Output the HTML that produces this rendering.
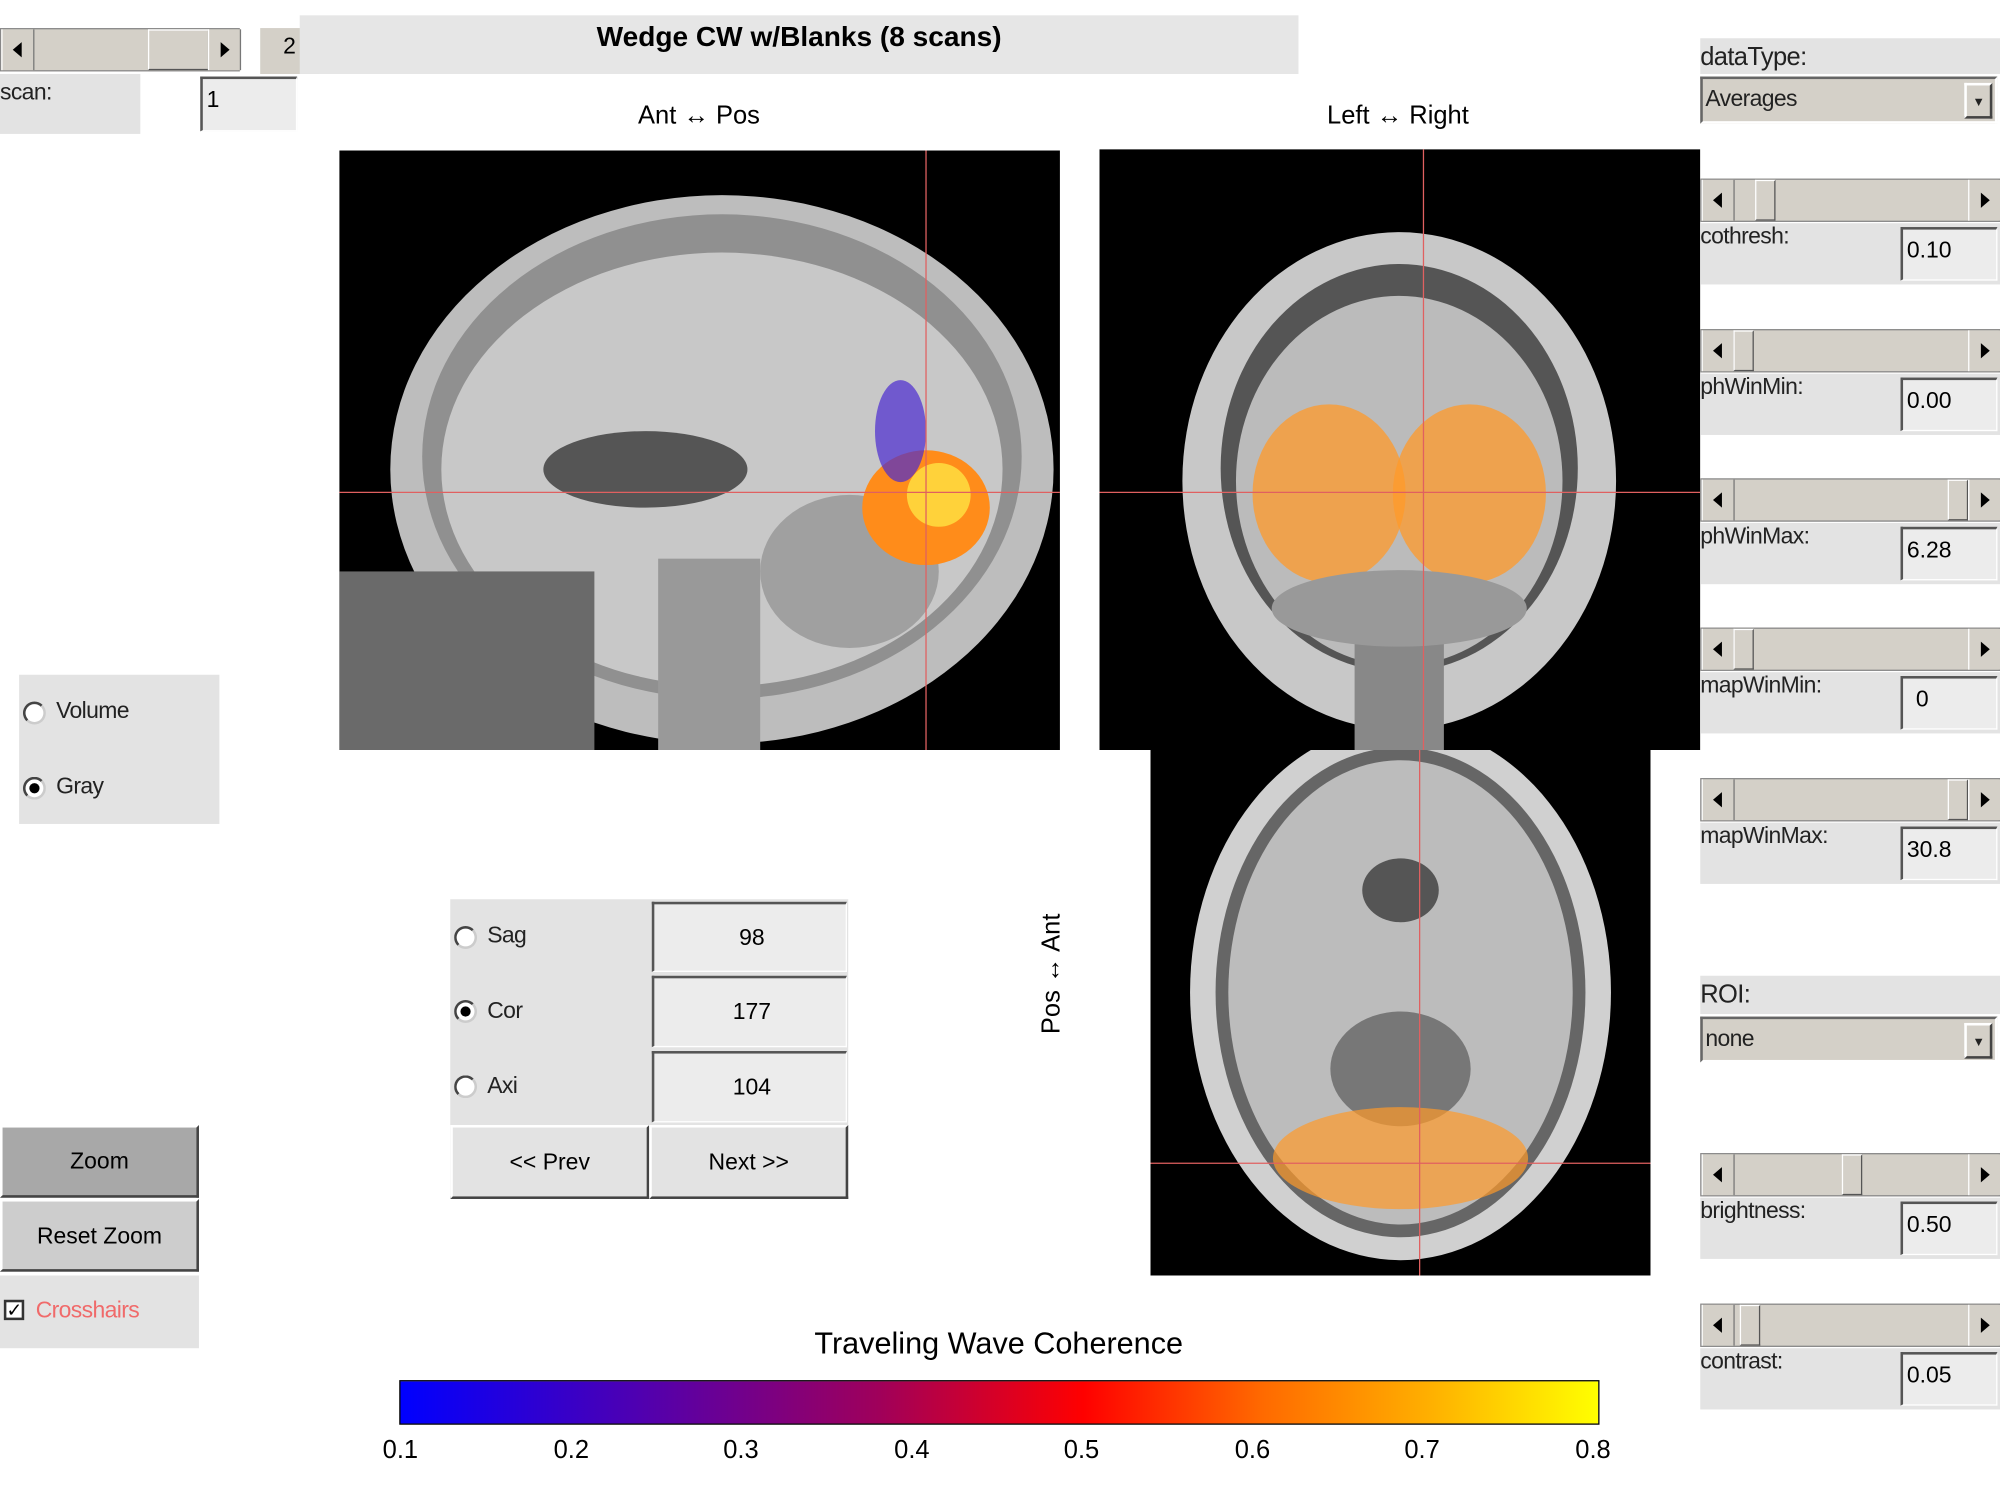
<!DOCTYPE html>
<html><head><style>
html,body{margin:0;padding:0;background:#fff;overflow:hidden}
#w{position:absolute;left:0;top:0;width:1568px;height:1176px;transform:scale(1.27551);transform-origin:0 0;font-family:"Liberation Sans",sans-serif;}
.a{position:absolute;box-sizing:border-box}
.g{background:#e3e3e3}
.tan{background:#d4d0c8}
.ed{background:#ececec;border-top:2px solid #555;border-left:2px solid #555;border-right:1px solid #fff;border-bottom:1px solid #fff;font-size:18px;padding:6px 0 0 3px}
.lbl{font-size:18px;color:#222;letter-spacing:-0.5px}
.sl{position:absolute;height:34px;background:#d4d0c8;border:1px solid #888;box-sizing:border-box}
.sl .ar{position:absolute;top:0;width:24px;height:32px;background:#d4d0c8;border-right:1px solid #777;border-left:1px solid #fff}
.sl .th{position:absolute;top:0;height:32px;background:#d4d0c8;border:1px solid #fff;border-right-color:#555;border-bottom-color:#555;box-sizing:border-box}
.tri{position:absolute;top:10px;left:8px;width:0;height:0;border-top:6px solid transparent;border-bottom:6px solid transparent}
.btn{border:2px solid #fff;border-right-color:#444;border-bottom-color:#444;font-size:18px;text-align:center}
.rad{position:absolute;width:14px;height:14px;border-radius:50%;border:2px solid #444;border-right-color:#ccc;border-bottom-color:#ccc;background:#fff}
.dot{position:absolute;left:3px;top:3px;width:8px;height:8px;border-radius:50%;background:#000}
</style></head><body><div id="w">

<!-- top left slider -->
<div class="sl" style="left:0;top:22px;width:188px"><div class="ar" style="left:0"><div class="tri" style="border-right:7px solid #000"></div></div><div class="th" style="left:115px;width:48px"></div><div class="ar" style="left:162px"><div class="tri" style="border-left:7px solid #000;left:9px"></div></div></div>
<div class="a tan" style="left:204px;top:22px;width:46px;height:36px;font-size:18px;text-align:center;padding-top:4px">2</div>
<div class="a g" style="left:235px;top:12px;width:783px;height:46px;font-size:22px;font-weight:bold;text-align:center;padding-top:4px;background:#e6e6e6">Wedge CW w/Blanks (8 scans)</div>
<div class="a g lbl" style="left:0;top:58px;width:110px;height:47px;padding-top:4px">scan:</div>
<div class="a ed" style="left:157px;top:60px;width:76px;height:43px">1</div>

<div class="a" style="left:440px;top:80px;width:216px;text-align:center;font-size:20px">Ant ↔ Pos</div>
<div class="a" style="left:990px;top:80px;width:212px;text-align:center;font-size:20px">Left ↔ Right</div>

<!-- sagittal -->
<svg class="a" style="left:266px;top:118px" width="565" height="470">
<rect width="565" height="470" fill="#000"/>
<ellipse cx="300" cy="250" rx="260" ry="215" fill="#bdbdbd"/>
<ellipse cx="300" cy="240" rx="235" ry="190" fill="#909090"/>
<ellipse cx="300" cy="250" rx="220" ry="170" fill="#c8c8c8"/>
<ellipse cx="240" cy="250" rx="80" ry="30" fill="#555"/>
<ellipse cx="400" cy="330" rx="70" ry="60" fill="#a0a0a0"/>
<rect x="0" y="330" width="200" height="140" fill="#6a6a6a"/>
<rect x="250" y="320" width="80" height="150" fill="#999"/>
<ellipse cx="460" cy="280" rx="50" ry="45" fill="#ff8c1a"/>
<ellipse cx="470" cy="270" rx="25" ry="25" fill="#ffd23a"/>
<ellipse cx="440" cy="220" rx="20" ry="40" fill="#4a2ad0" opacity=".7"/>
<line x1="460" y1="0" x2="460" y2="470" stroke="#e06060" stroke-width="1"/>
<line x1="0" y1="268" x2="565" y2="268" stroke="#e06060" stroke-width="1"/>
</svg>

<!-- coronal -->
<svg class="a" style="left:862px;top:117px" width="471" height="471">
<rect width="471" height="471" fill="#000"/>
<ellipse cx="235" cy="260" rx="170" ry="195" fill="#c8c8c8"/>
<ellipse cx="235" cy="250" rx="140" ry="160" fill="#555"/>
<ellipse cx="235" cy="260" rx="128" ry="145" fill="#bbb"/>
<rect x="200" y="380" width="70" height="91" fill="#888"/>
<ellipse cx="180" cy="270" rx="60" ry="70" fill="#ff9a2a" opacity=".75"/>
<ellipse cx="290" cy="270" rx="60" ry="70" fill="#ff9a2a" opacity=".75"/>
<ellipse cx="235" cy="360" rx="100" ry="30" fill="#999"/>
<line x1="254" y1="0" x2="254" y2="471" stroke="#e06060"/>
<line x1="0" y1="269" x2="471" y2="269" stroke="#e06060"/>
</svg>

<!-- axial -->
<svg class="a" style="left:902px;top:588px" width="392" height="412">
<rect width="392" height="412" fill="#000"/>
<ellipse cx="196" cy="190" rx="165" ry="210" fill="#d0d0d0"/>
<ellipse cx="196" cy="190" rx="145" ry="192" fill="#666"/>
<ellipse cx="196" cy="190" rx="135" ry="182" fill="#bcbcbc"/>
<ellipse cx="196" cy="110" rx="30" ry="25" fill="#555"/>
<ellipse cx="196" cy="250" rx="55" ry="45" fill="#777"/>
<ellipse cx="196" cy="320" rx="100" ry="40" fill="#ff9a2a" opacity=".7"/>
<line x1="211" y1="0" x2="211" y2="412" stroke="#e06060"/>
<line x1="0" y1="324" x2="392" y2="324" stroke="#e06060"/>
</svg>

<!-- Volume/Gray -->
<div class="a g" style="left:15px;top:529px;width:157px;height:117px"></div>
<div class="rad" style="left:18px;top:550px"></div><div class="a lbl" style="left:44px;top:547px">Volume</div>
<div class="rad" style="left:18px;top:609px"><div class="dot"></div></div><div class="a lbl" style="left:44px;top:606px">Gray</div>

<!-- Sag/Cor/Axi -->
<div class="a g" style="left:353px;top:705px;width:312px;height:235px"></div>
<div class="rad" style="left:356px;top:726px"></div><div class="a lbl" style="left:382px;top:723px">Sag</div>
<div class="rad" style="left:356px;top:784px"><div class="dot"></div></div><div class="a lbl" style="left:382px;top:782px">Cor</div>
<div class="rad" style="left:356px;top:843px"></div><div class="a lbl" style="left:382px;top:841px">Axi</div>
<div class="a ed" style="left:511px;top:707px;width:153px;height:55px;text-align:center;padding-top:16px">98</div>
<div class="a ed" style="left:511px;top:765px;width:153px;height:56px;text-align:center;padding-top:16px">177</div>
<div class="a ed" style="left:511px;top:824px;width:153px;height:56px;text-align:center;padding-top:16px">104</div>
<div class="a btn g" style="left:353px;top:882px;width:156px;height:58px;padding-top:17px">&lt;&lt; Prev</div>
<div class="a btn g" style="left:509px;top:882px;width:156px;height:58px;padding-top:17px">Next &gt;&gt;</div>

<div class="a" style="left:765px;top:752px;width:120px;text-align:center;font-size:20px;transform:rotate(-90deg)">Pos ↔ Ant</div>

<!-- zoom buttons -->
<div class="a btn" style="left:0;top:882px;width:156px;height:57px;background:#a8a8a8;padding-top:16px">Zoom</div>
<div class="a btn" style="left:0;top:940px;width:156px;height:57px;background:#cdcdcd;padding-top:17px">Reset Zoom</div>
<div class="a g" style="left:0;top:1000px;width:156px;height:57px"></div>
<div class="a" style="left:3px;top:1019px;width:16px;height:16px;border:2px solid #333;background:#fff;font-size:15px;line-height:14px;text-align:center">✓</div>
<div class="a lbl" style="left:28px;top:1017px;color:#f06a6a">Crosshairs</div>

<!-- colorbar -->
<div class="a" style="left:560px;top:1040px;width:446px;text-align:center;font-size:24px">Traveling Wave Coherence</div>
<div class="a" style="left:313px;top:1082px;width:941px;height:35px;border:1px solid #000;background:linear-gradient(to right,#0000ff 0%,#5000b0 20%,#a0005a 40%,#ff0000 57%,#ff6a00 72%,#ffb000 86%,#ffff00 100%)"></div>
<div class="a" style="left:290px;top:1126px;width:1000px;height:30px;font-size:20px">
<span class="a" style="left:10px">0.1</span><span class="a" style="left:144px">0.2</span><span class="a" style="left:277px">0.3</span><span class="a" style="left:411px">0.4</span><span class="a" style="left:544px">0.5</span><span class="a" style="left:678px">0.6</span><span class="a" style="left:811px">0.7</span><span class="a" style="left:945px">0.8</span></div>

<!-- right panel -->
<div class="a g lbl" style="left:1333px;top:30px;width:235px;height:28px;font-size:20px;padding-top:4px">dataType:</div>
<div class="a tan lbl" style="left:1333px;top:60px;width:233px;height:37px;border:2px solid #666;border-right-color:#fff;border-bottom-color:#fff;padding:5px 2px">Averages<div class="a btn tan" style="right:2px;top:3px;width:22px;height:28px;font-size:10px;padding-top:8px">▼</div></div>

<div class="sl" style="left:1333px;top:140px;width:235px"><div class="ar" style="left:0"><div class="tri" style="border-right:7px solid #000"></div></div><div class="th" style="left:42px;width:16px"></div><div class="ar" style="left:209px"><div class="tri" style="border-left:7px solid #000;left:9px"></div></div></div>
<div class="a g lbl" style="left:1333px;top:175px;width:235px;height:48px">cothresh:</div><div class="a ed" style="left:1490px;top:178px;width:76px;height:42px">0.10</div>

<div class="sl" style="left:1333px;top:258px;width:235px"><div class="ar" style="left:0"><div class="tri" style="border-right:7px solid #000"></div></div><div class="th" style="left:25px;width:16px"></div><div class="ar" style="left:209px"><div class="tri" style="border-left:7px solid #000;left:9px"></div></div></div>
<div class="a g lbl" style="left:1333px;top:293px;width:235px;height:48px">phWinMin:</div><div class="a ed" style="left:1490px;top:296px;width:76px;height:42px">0.00</div>

<div class="sl" style="left:1333px;top:375px;width:235px"><div class="ar" style="left:0"><div class="tri" style="border-right:7px solid #000"></div></div><div class="th" style="left:193px;width:16px"></div><div class="ar" style="left:209px"><div class="tri" style="border-left:7px solid #000;left:9px"></div></div></div>
<div class="a g lbl" style="left:1333px;top:410px;width:235px;height:48px">phWinMax:</div><div class="a ed" style="left:1490px;top:413px;width:76px;height:42px">6.28</div>

<div class="sl" style="left:1333px;top:492px;width:235px"><div class="ar" style="left:0"><div class="tri" style="border-right:7px solid #000"></div></div><div class="th" style="left:25px;width:16px"></div><div class="ar" style="left:209px"><div class="tri" style="border-left:7px solid #000;left:9px"></div></div></div>
<div class="a g lbl" style="left:1333px;top:527px;width:235px;height:48px">mapWinMin:</div><div class="a ed" style="left:1490px;top:530px;width:76px;height:42px;padding-left:10px">0</div>

<div class="sl" style="left:1333px;top:610px;width:235px"><div class="ar" style="left:0"><div class="tri" style="border-right:7px solid #000"></div></div><div class="th" style="left:193px;width:16px"></div><div class="ar" style="left:209px"><div class="tri" style="border-left:7px solid #000;left:9px"></div></div></div>
<div class="a g lbl" style="left:1333px;top:645px;width:235px;height:48px">mapWinMax:</div><div class="a ed" style="left:1490px;top:648px;width:76px;height:42px">30.8</div>

<div class="a g lbl" style="left:1333px;top:765px;width:235px;height:30px;font-size:20px;padding-top:4px">ROI:</div>
<div class="a tan lbl" style="left:1333px;top:797px;width:233px;height:36px;border:2px solid #666;border-right-color:#fff;border-bottom-color:#fff;padding:5px 2px">none<div class="a btn tan" style="right:2px;top:3px;width:22px;height:28px;font-size:10px;padding-top:8px">▼</div></div>

<div class="sl" style="left:1333px;top:904px;width:235px"><div class="ar" style="left:0"><div class="tri" style="border-right:7px solid #000"></div></div><div class="th" style="left:110px;width:16px"></div><div class="ar" style="left:209px"><div class="tri" style="border-left:7px solid #000;left:9px"></div></div></div>
<div class="a g lbl" style="left:1333px;top:939px;width:235px;height:48px">brightness:</div><div class="a ed" style="left:1490px;top:942px;width:76px;height:42px">0.50</div>

<div class="sl" style="left:1333px;top:1022px;width:235px"><div class="ar" style="left:0"><div class="tri" style="border-right:7px solid #000"></div></div><div class="th" style="left:30px;width:16px"></div><div class="ar" style="left:209px"><div class="tri" style="border-left:7px solid #000;left:9px"></div></div></div>
<div class="a g lbl" style="left:1333px;top:1057px;width:235px;height:48px">contrast:</div><div class="a ed" style="left:1490px;top:1060px;width:76px;height:42px">0.05</div>

</div></body></html>
